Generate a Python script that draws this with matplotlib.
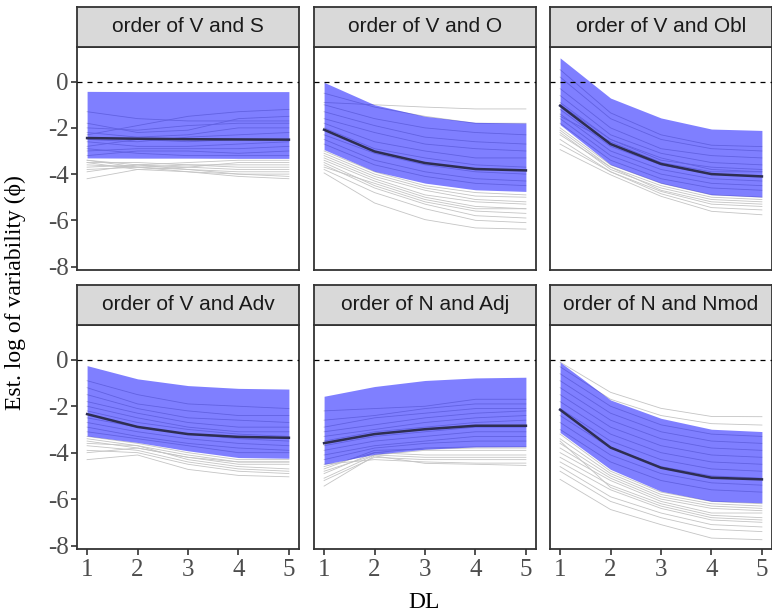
import numpy as np
import matplotlib.pyplot as plt

plt.rcParams['font.family'] = ['Liberation Serif', 'DejaVu Serif']
plt.rcParams['axes.unicode_minus'] = False

dl = [1, 2, 3, 4, 5]
facets = ["order of V and S", "order of V and O", "order of V and Obl",
          "order of V and Adv", "order of N and Adj", "order of N and Nmod"]

# median and 95% band per facet
median_vs = [-2.44, -2.47, -2.49, -2.50, -2.51]
lower_vs = [-3.30, -3.31, -3.31, -3.32, -3.32]
upper_vs = [-0.42, -0.43, -0.43, -0.43, -0.43]

median_vo = [-2.08, -3.02, -3.52, -3.78, -3.84]
lower_vo = [-2.94, -3.88, -4.39, -4.68, -4.75]
upper_vo = [-0.03, -1.00, -1.50, -1.76, -1.79]

median_vobl = [-1.04, -2.70, -3.56, -4.00, -4.10]
lower_vobl = [-1.86, -3.59, -4.39, -4.89, -4.99]
upper_vobl = [1.03, -0.71, -1.57, -2.05, -2.11]

median_vadv = [-2.34, -2.89, -3.20, -3.32, -3.36]
lower_vadv = [-3.28, -3.56, -3.92, -4.21, -4.24]
upper_vadv = [-0.25, -0.82, -1.11, -1.23, -1.26]

median_nadj = [-3.59, -3.20, -2.99, -2.84, -2.84]
lower_nadj = [-4.50, -4.07, -3.85, -3.75, -3.74]
upper_nadj = [-1.57, -1.15, -0.89, -0.78, -0.75]

median_nnmod = [-2.15, -3.78, -4.65, -5.08, -5.15]
lower_nnmod = [-3.13, -4.72, -5.66, -6.09, -6.16]
upper_nnmod = [-0.10, -1.73, -2.52, -2.99, -3.09]

# individual language estimates (gray lines)
langs_vs = [
    [-1.3, -1.6, -1.7, -1.7, -1.7], [-2.3, -1.9, -1.5, -1.3, -1.2],
    [-1.8, -2.2, -2.1, -1.6, -1.5], [-2.0, -2.1, -1.9, -1.8, -1.8],
    [-2.2, -2.4, -2.3, -2.0, -2.0], [-2.5, -2.6, -2.4, -2.3, -2.2],
    [-2.8, -2.5, -2.6, -2.5, -2.5], [-2.6, -2.8, -2.8, -2.7, -2.6],
    [-3.0, -2.9, -2.9, -2.9, -2.8], [-3.2, -3.0, -3.0, -3.1, -3.0],
    [-2.9, -3.1, -3.2, -3.2, -3.2], [-3.4, -3.6, -3.5, -3.4, -3.4],
    [-3.5, -3.5, -3.6, -3.6, -3.6], [-3.6, -3.7, -3.6, -3.7, -3.7],
    [-3.9, -3.6, -3.7, -3.8, -3.8], [-3.4, -3.7, -3.8, -3.9, -3.9],
    [-3.7, -3.6, -3.8, -4.0, -4.0], [-4.2, -3.8, -3.9, -4.0, -4.1],
    [-3.8, -3.7, -3.9, -4.1, -4.2], [-3.5, -3.8, -3.7, -3.5, -3.5],
]
langs_vo = [
    [-0.9, -1.0, -1.1, -1.18, -1.18], [-0.5, -1.1, -1.5, -1.8, -1.8],
    [-1.0, -1.6, -2.0, -2.2, -2.3], [-1.3, -1.9, -2.4, -2.6, -2.7],
    [-1.6, -2.2, -2.7, -2.9, -3.0], [-1.8, -2.6, -3.0, -3.3, -3.3],
    [-2.0, -2.9, -3.3, -3.6, -3.7], [-2.3, -3.1, -3.6, -3.9, -4.0],
    [-2.5, -3.4, -3.9, -4.2, -4.3], [-2.7, -3.6, -4.1, -4.4, -4.5],
    [-3.0, -3.9, -4.5, -4.8, -4.9], [-3.1, -4.0, -4.6, -4.95, -5.0],
    [-3.2, -4.1, -4.7, -5.1, -5.2], [-3.3, -4.2, -4.9, -5.2, -5.3],
    [-3.4, -4.3, -5.0, -5.4, -5.5], [-3.5, -4.5, -5.2, -5.6, -5.7],
    [-3.6, -4.6, -5.3, -5.8, -5.9], [-3.8, -4.8, -5.5, -6.0, -6.1],
    [-3.95, -5.25, -5.97, -6.33, -6.38], [-3.7, -4.4, -5.1, -5.5, -5.5],
]
langs_vobl = [
    [0.52, -1.35, -2.3, -2.75, -2.81], [0.2, -1.6, -2.5, -2.9, -3.0],
    [-0.3, -2.0, -2.9, -3.2, -3.3], [-0.6, -2.3, -3.1, -3.5, -3.6],
    [-0.9, -2.5, -3.3, -3.8, -3.9], [-1.2, -2.8, -3.6, -4.0, -4.1],
    [-1.4, -3.0, -3.8, -4.2, -4.3], [-1.6, -3.2, -4.0, -4.4, -4.5],
    [-1.8, -3.4, -4.2, -4.6, -4.7], [-2.0, -3.6, -4.4, -4.9, -5.0],
    [-2.1, -3.7, -4.5, -5.0, -5.1], [-2.2, -3.8, -4.6, -5.1, -5.2],
    [-2.3, -3.7, -4.7, -5.2, -5.3], [-2.5, -3.9, -4.75, -5.3, -5.4],
    [-2.7, -3.9, -4.85, -5.45, -5.55], [-2.94, -4.03, -4.96, -5.61, -5.76],
    [-1.0, -2.5, -3.4, -3.7, -3.8], [-1.5, -2.6, -3.5, -3.9, -3.9],
]
langs_vadv = [
    [-0.9, -1.5, -1.9, -2.0, -2.1], [-1.2, -1.9, -2.2, -2.4, -2.4],
    [-1.5, -2.1, -2.5, -2.6, -2.7], [-1.8, -2.3, -2.7, -2.9, -2.9],
    [-2.0, -2.5, -2.9, -3.1, -3.1], [-2.2, -2.7, -3.0, -3.2, -3.3],
    [-2.5, -2.9, -3.2, -3.4, -3.5], [-2.7, -3.1, -3.4, -3.6, -3.7],
    [-2.9, -3.3, -3.6, -3.8, -3.9], [-3.1, -3.4, -3.7, -4.0, -4.0],
    [-3.3, -3.6, -4.0, -4.3, -4.3], [-3.4, -3.7, -4.1, -4.4, -4.4],
    [-3.5, -3.8, -4.2, -4.5, -4.5], [-3.6, -3.7, -4.3, -4.6, -4.7],
    [-3.7, -3.9, -4.4, -4.7, -4.8], [-3.9, -4.0, -4.5, -4.8, -4.9],
    [-4.3, -4.1, -4.72, -4.98, -5.04], [-4.0, -3.8, -4.2, -4.4, -4.4],
]
langs_nadj = [
    [-2.2, -2.1, -2.0, -1.7, -1.7], [-2.6, -2.4, -2.1, -1.9, -1.9],
    [-2.9, -2.5, -2.3, -2.1, -2.1], [-3.1, -2.8, -2.5, -2.3, -2.2],
    [-3.3, -3.0, -2.7, -2.5, -2.4], [-3.5, -3.1, -2.9, -2.7, -2.6],
    [-3.7, -3.3, -3.1, -2.9, -2.9], [-3.9, -3.5, -3.3, -3.1, -3.1],
    [-4.1, -3.7, -3.5, -3.3, -3.3], [-4.3, -3.8, -3.6, -3.5, -3.5],
    [-4.6, -4.0, -3.8, -3.75, -3.75], [-4.7, -3.9, -3.85, -3.8, -3.8],
    [-4.8, -4.1, -3.9, -3.9, -3.9], [-4.9, -4.0, -4.1, -4.1, -4.1],
    [-5.1, -4.1, -4.2, -4.2, -4.2], [-5.2, -4.2, -4.3, -4.3, -4.3],
    [-5.44, -4.14, -4.46, -4.5, -4.55], [-4.5, -4.3, -4.4, -4.45, -4.45],
]
langs_nnmod = [
    [-0.1, -1.40, -2.09, -2.44, -2.45], [-0.3, -1.7, -2.4, -2.75, -2.81],
    [-0.6, -2.0, -2.8, -3.2, -3.3], [-0.9, -2.3, -3.1, -3.5, -3.6],
    [-1.2, -2.6, -3.4, -3.8, -3.9], [-1.5, -2.9, -3.7, -4.1, -4.2],
    [-1.8, -3.2, -4.0, -4.4, -4.5], [-2.1, -3.5, -4.3, -4.7, -4.8],
    [-2.4, -3.8, -4.6, -5.0, -5.1], [-2.7, -4.1, -4.9, -5.3, -5.4],
    [-3.0, -4.4, -5.2, -5.6, -5.7], [-3.2, -4.8, -5.7, -6.1, -6.2],
    [-3.4, -4.9, -5.8, -6.2, -6.3], [-3.6, -5.0, -5.9, -6.3, -6.4],
    [-3.8, -5.1, -6.0, -6.4, -6.5], [-4.0, -5.2, -6.1, -6.6, -6.6],
    [-4.2, -5.4, -6.2, -6.7, -6.8], [-4.4, -5.6, -6.4, -6.9, -7.0],
    [-4.6, -5.9, -6.6, -7.1, -7.2], [-4.8, -6.1, -6.8, -7.3, -7.4],
    [-5.15, -6.45, -7.10, -7.68, -7.75], [-3.5, -5.5, -6.3, -6.8, -6.9],
]

medians = [median_vs, median_vo, median_vobl, median_vadv, median_nadj, median_nnmod]
lowers = [lower_vs, lower_vo, lower_vobl, lower_vadv, lower_nadj, lower_nnmod]
uppers = [upper_vs, upper_vo, upper_vobl, upper_vadv, upper_nadj, upper_nnmod]
langs = [langs_vs, langs_vo, langs_vobl, langs_vadv, langs_nadj, langs_nnmod]

W, H = 772, 616
fig = plt.figure(figsize=(W / 100, H / 100), dpi=100)

col_left = [77, 314, 550]
col_w = 222
# (strip top, panel top, panel bottom) in pixels from top
rows = [(7, 47, 270), (285, 325, 549)]
edge = '#333333'

for i, name in enumerate(facets):
    r, c = divmod(i, 3)
    st, pt, pb = rows[r]
    x0 = col_left[c]
    ax = fig.add_axes([x0 / W, 1 - pb / H, col_w / W, (pb - pt) / H])
    sx = fig.add_axes([x0 / W, 1 - pt / H, col_w / W, (pt - st) / H])

    for ln in langs[i]:
        ax.plot(dl, ln, color='#c4c4c4', lw=0.6, zorder=1)
    ax.fill_between(dl, lowers[i], uppers[i], color='blue', alpha=0.5,
                    lw=0, zorder=2)
    ax.plot(dl, medians[i], color='#2e2e52', lw=1.8, zorder=3)
    ax.axhline(0, color='black', lw=0.9, ls=(0, (4, 4)), zorder=4)

    ax.set_xlim(0.8, 5.2)
    ax.set_ylim(-8.15, 1.5)
    ax.set_xticks(dl)
    ax.set_yticks([0, -2, -4, -6, -8])
    ax.tick_params(colors=edge, labelcolor='#4d4d4d', labelsize=18,
                   length=4, width=1.2)
    ax.tick_params(axis='x', pad=3)
    ax.tick_params(axis='y', pad=2)
    if c != 0:
        ax.tick_params(axis='y', left=False, labelleft=False)
    if r != 1:
        ax.tick_params(axis='x', bottom=False, labelbottom=False)
    for sp in ax.spines.values():
        sp.set_color(edge)
        sp.set_linewidth(1.3)

    sx.set_facecolor('#d9d9d9')
    sx.set_xticks([])
    sx.set_yticks([])
    for sp in sx.spines.values():
        sp.set_color(edge)
        sp.set_linewidth(1.3)
    sx.text(0.5, 0.5, name, ha='center', va='center', fontsize=15,
            color='#1a1a1a', family=['Liberation Sans', 'DejaVu Sans'],
            transform=sx.transAxes)

fig.text(15 / W, 1 - 293 / H, "Est. log of variability (\u03d5)", rotation=90,
         ha='center', va='center', fontsize=17)
fig.text(424 / W, 1 - 602 / H, "DL", ha='center', va='center', fontsize=17)

fig.savefig('out.png', dpi=100)
